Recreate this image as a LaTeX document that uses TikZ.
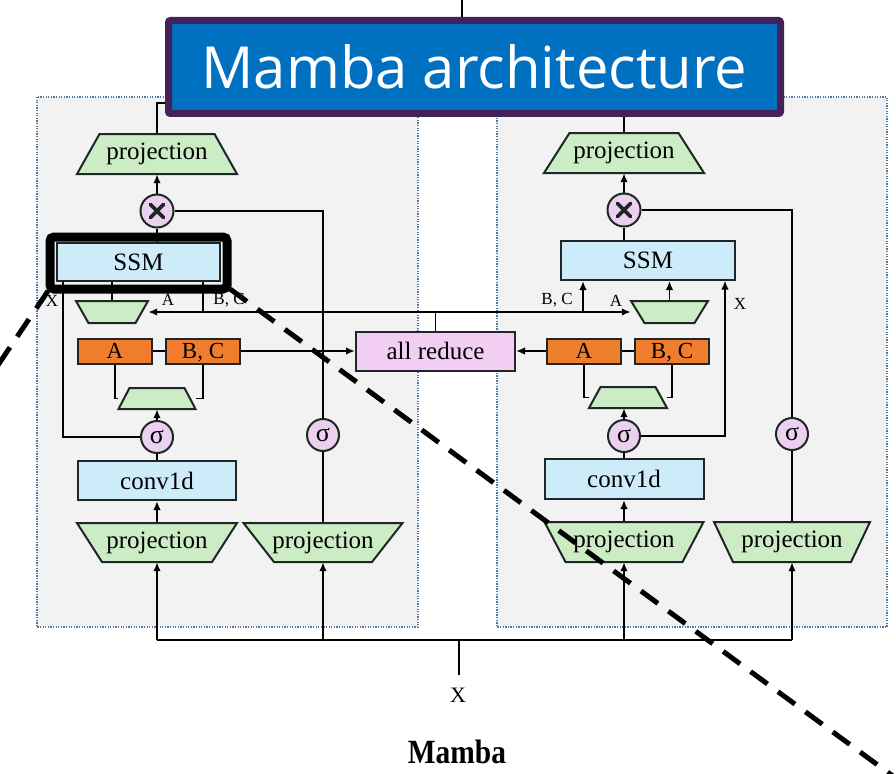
\documentclass[tikz,border=0pt]{standalone}
\usepackage{fontspec}
\setmainfont{Liberation Serif}
\newfontfamily\titlefont{Open Sans}
\usetikzlibrary{arrows.meta,calc}
\pgfdeclarelayer{panel}
\pgfdeclarelayer{edges}
\pgfsetlayers{panel,edges,main}

\definecolor{trapgreen}{RGB}{203,236,196}
\definecolor{ssmblue}{RGB}{206,235,250}
\definecolor{blockorange}{RGB}{240,125,45}
\definecolor{reducepink}{RGB}{242,207,242}
\definecolor{oppink}{RGB}{236,208,240}
\definecolor{panelgray}{RGB}{242,242,242}
\definecolor{dotblue}{RGB}{80,120,160}
\definecolor{edgedark}{RGB}{30,38,38}
\definecolor{titleblue}{RGB}{0,112,192}
\definecolor{titlerim}{RGB}{66,34,88}

\tikzset{
  every node/.style={font=\fontsize{24}{28}\selectfont},
  panelbox/.style={fill=panelgray, draw=dotblue, line width=1.8pt, dash pattern=on 1.3pt off 1.3pt},
  trapshape/.style={fill=trapgreen, draw=edgedark, line width=2pt, line join=miter},
  trapnode/.style={inner sep=0pt, font=\fontsize{25}{28}\selectfont},
  bluebox/.style={rectangle, fill=ssmblue, draw=edgedark, line width=2pt, inner sep=0pt, font=\fontsize{25}{28}\selectfont},
  orangebox/.style={rectangle, fill=blockorange, draw=edgedark, line width=2pt, inner sep=0pt,
    minimum width=74pt, minimum height=25pt, text height=15pt, text depth=1pt,
    font=\fontsize{23}{26}\selectfont},
  reducebox/.style={rectangle, fill=reducepink, draw=edgedark, line width=2pt, inner sep=0pt,
    minimum width=159pt, minimum height=39pt, font=\fontsize{25}{28}\selectfont},
  sigmaop/.style={circle, fill=oppink, draw=edgedark, line width=2pt, inner sep=0pt,
    minimum size=32pt, font=\fontsize{26}{28}\selectfont},
  mulop/.style={circle, fill=oppink, draw=edgedark, line width=2pt, inner sep=0pt, minimum size=33pt,
    path picture={\draw[line width=3.6pt, line cap=round]
      ($(path picture bounding box.center)+(-6.5,-6.5)$) -- ($(path picture bounding box.center)+(6.5,6.5)$)
      ($(path picture bounding box.center)+(-6.5,6.5)$) -- ($(path picture bounding box.center)+(6.5,-6.5)$);}},
  smalllabel/.style={inner sep=0pt, font=\fontsize{17}{20}\selectfont},
  conn/.style={draw=black, line width=1.8pt},
  arr/.style={conn, -{Latex[length=9pt,width=7.5pt]}},
  titlebox/.style={rectangle, fill=titleblue, draw=titlerim, line width=7pt, rounded corners=2pt,
    minimum width=612pt, minimum height=93pt, inner sep=0pt, text=white,
    font=\titlefont\fontsize{58}{64}\selectfont},
  zoomframe/.style={draw=black, line width=9pt, rounded corners=4pt},
  zoomline/.style={draw=black, line width=5pt, dash pattern=on 21pt off 13pt},
}

% trapezoid block: name, centre x, centre y, top width, bottom width, height, label
\newcommand\trapblock[7]{%
  \pgfmathsetmacro\trapwd{max(#4,#5)}%
  \draw[trapshape] ({#2-#4/2},{#3-#6/2}) -- ({#2+#4/2},{#3-#6/2})
    -- ({#2+#5/2},{#3+#6/2}) -- ({#2-#5/2},{#3+#6/2}) -- cycle;
  \node[trapnode, minimum width=\trapwd pt, minimum height=#6pt] (#1) at (#2,#3) {#7};
}

\begin{document}
\begin{tikzpicture}[x=1pt, y=-1pt]
\useasboundingbox (0,0) rectangle (896,773);

% the two tensor-parallel halves
\begin{pgfonlayer}{panel}
  \draw[panelbox] (37,97) rectangle (418,627);
  \draw[panelbox] (497,97) rectangle (887,627);
\end{pgfonlayer}

% ---------------- left half ----------------
\trapblock{pjT1}{157}{154}{115}{160}{40}{projection}
\node[mulop] (mul1) at (157,211) {};
\node[bluebox, minimum width=163pt, minimum height=38pt] (ssm1) at (138.5,262) {SSM};
\trapblock{ta1}{112}{312}{72}{47}{22}{}
\node[orangebox] (oA1) at (115,351) {A};
\node[orangebox] (oB1) at (203,351) {B, C};
\trapblock{tm1}{157}{398.5}{55}{77}{21}{}
\node[sigmaop] (sg1) at (157,437) {σ};
\node[bluebox, minimum width=158pt, minimum height=39pt] (cv1) at (157,480.5) {conv1d};
\trapblock{pjB1a}{157}{542.5}{160}{110}{39}{projection}
\trapblock{pjB1b}{323}{542.5}{159}{98}{39}{projection}
\node[sigmaop] (sg1b) at (323,435) {σ};

\node[smalllabel] (lx1) at (52,301) {X};
\node[smalllabel] (la1) at (168,300) {A};
\node[smalllabel] (lbc1) at (229,300) {B, C};

% ---------------- shared reduction ----------------
\node[reducebox] (ar) at (435.5,351) {all reduce};

% ---------------- right half ----------------
\trapblock{pjT2}{624}{153}{109}{160}{40}{projection}
\node[mulop] (mul2) at (624,210) {};
\node[bluebox, minimum width=174pt, minimum height=39pt] (ssm2) at (648,260.5) {SSM};
\trapblock{ta2}{669.5}{312}{77}{50}{22}{}
\node[orangebox] (oA2) at (584,351) {A};
\node[orangebox] (oB2) at (672,351) {B, C};
\trapblock{tm2}{628}{397.5}{55}{78}{21}{}
\node[sigmaop] (sg2) at (624,436) {σ};
\node[bluebox, minimum width=159pt, minimum height=40pt] (cv2) at (624,479) {conv1d};
\trapblock{pjB2a}{624}{542}{159}{117}{40}{projection}
\trapblock{pjB2b}{792}{542}{156}{118}{40}{projection}
\node[sigmaop] (sg2b) at (792,434) {σ};

\node[smalllabel] (lbc2) at (557,300) {B, C};
\node[smalllabel] (la2) at (616,301) {A};
\node[smalllabel] (lx2) at (740,304) {X};

% ---------------- output / input ----------------
\node[draw=edgedark, line width=2pt, fill=white, minimum width=160pt, minimum height=50pt] (outbox) at (462,43) {};
\coordinate (outtop) at (462,0);
\coordinate (tj) at (462,103);
\coordinate (busc) at (459,640);
\coordinate (xend) at (459,675);
\node (xin) at (458,695) {\fontsize{22}{24}\selectfont X};
\node[inner sep=0pt] (cap) at (457,752) {\scalebox{0.92}[1.06]{\fontsize{32}{36}\selectfont\bfseries Mamba}};

\coordinate (jl) at (203,312);
\coordinate (jr) at (583,312);
\coordinate (xl) at (63,281);
\coordinate (xr) at (725,280.5);

\begin{pgfonlayer}{edges}
  % outputs merge at the top
  \draw[conn] (pjT1.north) |- (tj);
  \draw[conn] (pjT2.north) |- (tj);
  \draw[conn] (tj) -- (outbox.south);
  \draw[conn] (outbox.north) -- (outtop);

  % left half
  \draw[arr] (mul1.north) -- (pjT1.south);
  \draw[conn] (mul1.south) -- (mul1.south |- ssm1.north);
  \draw[conn] (mul1.east) -| (sg1b.north);
  \draw[conn] (pjB1b.north) -- (sg1b.south);
  \draw[conn] (ta1.north) -- (ta1.north |- ssm1.south);
  \draw[conn] (sg1.west) -| (xl);
  \draw[conn] (jl) -- (jl |- ssm1.south);
  \draw[conn] (oA1.east) -- (oB1.west);
  \draw[arr] (oB1.east) -- (ar.west);
  \draw[conn] (oA1.south) |- (tm1.west);
  \draw[conn] (oB1.south) |- (tm1.east);
  \draw[arr] (sg1.north) -- (tm1.south);
  \draw[conn] (cv1.north) -- (sg1.south);
  \draw[arr] (pjB1a.north) -- (cv1.south);

  % reduced A / B, C sent back to both halves
  \draw[arr] (ar.north) |- (ta1.east);
  \draw[arr] (ar.north) |- (ta2.west);

  % right half
  \draw[arr] (mul2.north) -- (pjT2.south);
  \draw[conn] (mul2.south) -- (mul2.south |- ssm2.north);
  \draw[conn] (mul2.east) -| (sg2b.north);
  \draw[conn] (pjB2b.north) -- (sg2b.south);
  \draw[arr] (ta2.north) -- (ta2.north |- ssm2.south);
  \draw[arr] (jr) -- (jr |- ssm2.south);
  \draw[arr] (sg2.east) -| (xr);
  \draw[arr] (oA2.west) -- (ar.east);
  \draw[conn] (oA2.east) -- (oB2.west);
  \draw[conn] (oA2.south) |- (tm2.west);
  \draw[conn] (oB2.south) |- (tm2.east);
  \draw[arr] (sg2.north) -- (sg2.north |- tm2.south);
  \draw[conn] (cv2.north) -- (sg2.south);
  \draw[arr] (pjB2a.north) -- (cv2.south);

  % input bus
  \draw[conn] (pjB1a.south |- busc) -- (pjB2b.south |- busc);
  \draw[conn] (busc) -- (xend);
  \foreach \blk in {pjB1a,pjB1b,pjB2a,pjB2b}
    \draw[arr] (\blk.south |- busc) -- (\blk.south);
\end{pgfonlayer}

% zoom-in frame on the first SSM and its guide lines
\draw[zoomframe] ($(ssm1.north west)+(-6,-5)$) rectangle ($(ssm1.south east)+(6,7)$);
\coordinate (hlA) at ($(ssm1.south west)+(-8,9)$);
\coordinate (hlB) at ($(ssm1.south east)+(9,7)$);
\coordinate (dashL) at (-4,368);
\coordinate (dashR) at (905,785);
\begin{scope}
  \clip (0,0) rectangle (896,773);
  \draw[zoomline] (hlA) -- (dashL);
  \draw[zoomline] (hlB) -- (dashR);
\end{scope}

% heading
\node[titlebox] (ttl) at (474.5,67) {Mamba architecture};
\end{tikzpicture}
\end{document}
